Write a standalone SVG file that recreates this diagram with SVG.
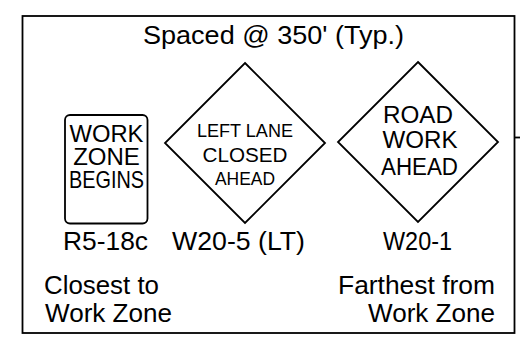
<svg xmlns="http://www.w3.org/2000/svg" width="520" height="346" viewBox="0 0 520 346">
<style>
text{font-family:"Liberation Sans",Arial,sans-serif;fill:#000}
.lbl{font-size:25px}
.sh{fill:#fff;stroke:#000;stroke-width:1.8}
.ln{stroke:#000;stroke-width:1.8;fill:none}
</style>
<rect x="0" y="0" width="520" height="346" fill="#fff"/>
<g id="frame">
<rect x="22.5" y="16" width="492" height="317" class="sh"/>
<text class="lbl" x="143" y="44" textLength="261" lengthAdjust="spacingAndGlyphs">Spaced @ 350' (Typ.)</text>
</g>
<g id="connectors">
<line x1="515" y1="137.5" x2="520" y2="137.5" class="ln"/>
</g>
<g id="r5-18c">
<rect x="65" y="115" width="82.5" height="108.5" rx="5" class="sh"/>
<text x="106.5" y="142" font-size="24" text-anchor="middle" textLength="74" lengthAdjust="spacingAndGlyphs">WORK</text>
<text x="106.5" y="164.5" font-size="24" text-anchor="middle">ZONE</text>
<text x="106.5" y="188" font-size="24" text-anchor="middle" textLength="75" lengthAdjust="spacingAndGlyphs">BEGINS</text>
<text class="lbl" x="63" y="250" textLength="85" lengthAdjust="spacingAndGlyphs">R5-18c</text>
</g>
<g id="w20-5">
<polygon points="245,63 325,143 245,223 165,143" class="sh"/>
<text x="245" y="137" font-size="18" text-anchor="middle" textLength="96" lengthAdjust="spacingAndGlyphs">LEFT LANE</text>
<text x="245" y="162" font-size="20.5" text-anchor="middle" textLength="85" lengthAdjust="spacingAndGlyphs">CLOSED</text>
<text x="245" y="185" font-size="18" text-anchor="middle" textLength="60" lengthAdjust="spacingAndGlyphs">AHEAD</text>
<text class="lbl" x="172" y="250" textLength="133" lengthAdjust="spacingAndGlyphs">W20-5 (LT)</text>
</g>
<g id="w20-1">
<polygon points="418,62 498,142 418,222 338,142" class="sh"/>
<text x="418" y="123" font-size="24" text-anchor="middle" textLength="70" lengthAdjust="spacingAndGlyphs">ROAD</text>
<text x="420" y="148" font-size="24" text-anchor="middle" textLength="75" lengthAdjust="spacingAndGlyphs">WORK</text>
<text x="419.5" y="175" font-size="23" text-anchor="middle" textLength="77" lengthAdjust="spacingAndGlyphs">AHEAD</text>
<text class="lbl" x="383" y="250" textLength="69" lengthAdjust="spacingAndGlyphs">W20-1</text>
</g>
<g id="closest">
<text class="lbl" x="44" y="294" textLength="115" lengthAdjust="spacingAndGlyphs">Closest to</text>
<text class="lbl" x="45" y="322" textLength="127" lengthAdjust="spacingAndGlyphs">Work Zone</text>
</g>
<g id="farthest">
<text class="lbl" x="338" y="294" textLength="157" lengthAdjust="spacingAndGlyphs">Farthest from</text>
<text class="lbl" x="368" y="322" textLength="127" lengthAdjust="spacingAndGlyphs">Work Zone</text>
</g>
</svg>
